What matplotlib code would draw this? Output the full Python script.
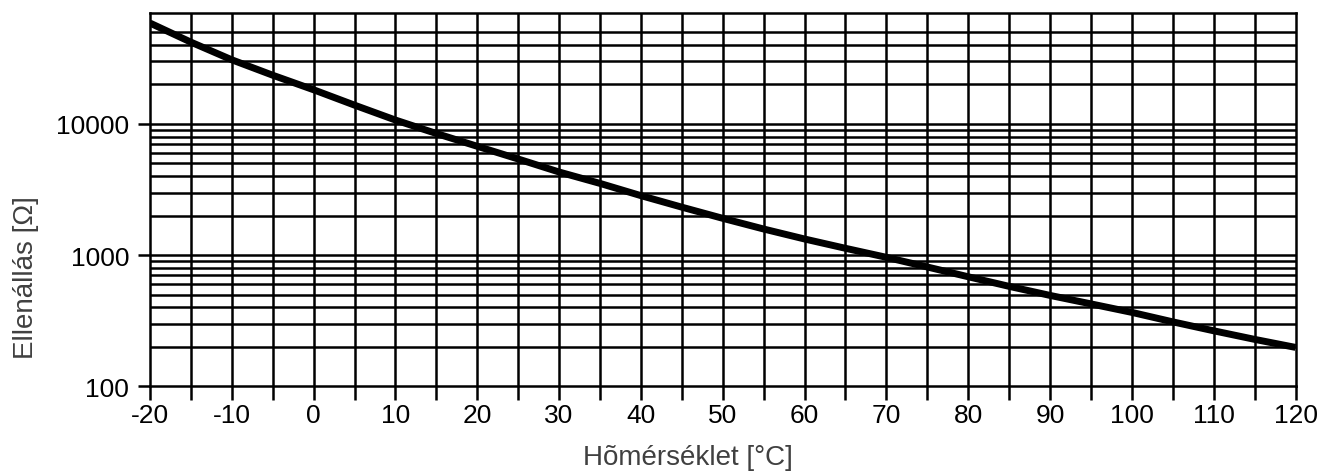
import matplotlib
matplotlib.use('Agg')
import matplotlib.pyplot as plt
from matplotlib.ticker import FixedLocator, NullFormatter

plt.rcParams['font.family'] = ['Liberation Sans', 'DejaVu Sans']
plt.rcParams['axes.unicode_minus'] = False

# values
temps = [-20, -15, -10, -5, 0, 5, 10, 15, 20, 25, 30, 35, 40, 45, 50,
         55, 60, 65, 70, 75, 80, 85, 90, 95, 100, 105, 110, 115, 120]
resistance = [58700, 42000, 30800, 23500, 18200, 13900, 10700, 8450, 6750,
              5400, 4300, 3520, 2840, 2320, 1907, 1581, 1327, 1127, 962,
              812, 684, 578, 493, 425, 366, 310, 265, 228, 198]

x_ticks = [-20, -10, 0, 10, 20, 30, 40, 50, 60, 70, 80, 90, 100, 110, 120]
x_grid = list(range(-15, 120, 5))
y_ticks = [100, 1000, 10000]
y_tick_labels = ['100', '1000', '10000']
y_grid = [m * 10 ** k for k in (2, 3, 4) for m in range(2, 10) if m * 10 ** k <= 50000]

fig = plt.figure(figsize=(13.32, 4.77), dpi=100)
ax = fig.add_axes([0.1126, 0.188, 0.86, 0.7826])

lw = 1.8
for g in x_grid:
    ax.axvline(g, color='black', lw=lw, zorder=1)
for g in y_grid:
    ax.axhline(g, color='black', lw=lw, zorder=1)
ax.axhline(10000, color='black', lw=lw, zorder=1)
ax.axhline(1000, color='black', lw=lw, zorder=1)

ax.plot(temps, resistance, color='black', lw=5, solid_capstyle='butt', zorder=3)

ax.set_yscale('log')
ax.set_xlim(-20, 120)
ax.set_ylim(100, 70000)

ax.xaxis.set_major_locator(FixedLocator(x_ticks))
ax.xaxis.set_minor_locator(FixedLocator([t for t in x_grid if t not in x_ticks]))
ax.set_xticklabels([str(t) for t in x_ticks])
ax.yaxis.set_major_locator(FixedLocator(y_ticks))
ax.yaxis.set_minor_locator(FixedLocator([]))
ax.yaxis.set_minor_formatter(NullFormatter())
ax.set_yticklabels(y_tick_labels)

ax.tick_params(axis='x', which='both', direction='out', length=10, width=lw,
               pad=2, labelsize=19, colors='black')
ax.tick_params(axis='y', which='major', direction='out', length=9, width=lw,
               pad=6, labelsize=19, colors='black')

for s in ax.spines.values():
    s.set_linewidth(lw)
    s.set_color('black')

ax.set_xlabel('Hõmérséklet [°C]', fontsize=20, color='#404040')
ax.set_ylabel('Ellenállás [Ω]', fontsize=20, color='#404040')
ax.xaxis.set_label_coords(0.47, -0.155)
ax.xaxis.label.set_va('top')
ax.yaxis.set_label_coords(-0.097, 0.295)

fig.savefig('out.png', dpi=100)
